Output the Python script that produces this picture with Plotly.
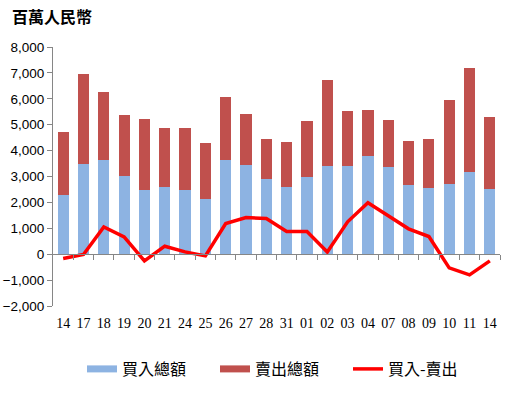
import plotly.graph_objects as go

labels = ["14", "17", "18", "19", "20", "21", "24", "25", "26", "27", "28",
          "31", "01", "02", "03", "04", "07", "08", "09", "10", "11", "14"]
buy = [2280, 3478, 3633, 3015, 2474, 2590, 2474, 2126, 3633, 3440, 2899,
       2590, 2976, 3401, 3401, 3788, 3363, 2667, 2551, 2706, 3169, 2512]
sell = [2435, 3479, 2628, 2357, 2744, 2280, 2396, 2164, 2435, 1971, 1546,
        1739, 2164, 3324, 2126, 1778, 1816, 1700, 1894, 3246, 4020, 2783]
net = [-166, -10, 1056, 670, -258, 309, 90, -64, 1185, 1417, 1379,
       876, 876, 89, 1250, 1984, 1481, 979, 683, -528, -799, -258]

names = ["買入總額", "賣出總額", "買入-賣出"]
c_buy, c_sell, c_net = "#8DB3E2", "#C0504D", "#FF0000"

idx = list(range(len(labels)))

fig = go.Figure()
fig.add_trace(go.Bar(x=idx, y=buy, name=names[0], marker_color=c_buy,
                     marker_line_width=0, width=0.55, showlegend=False))
fig.add_trace(go.Bar(x=idx, y=sell, name=names[1], marker_color=c_sell,
                     marker_line_width=0, width=0.55, showlegend=False))
fig.add_trace(go.Scatter(x=idx, y=net, name=names[2], mode="lines",
                         line=dict(color=c_net, width=3.5), xaxis="x2",
                         showlegend=False))
# legend proxies
for n, c, w in [(names[0], c_buy, 7), (names[1], c_sell, 7), (names[2], c_net, 3.5)]:
    fig.add_trace(go.Scatter(x=[None], y=[None], mode="lines", name=n,
                             line=dict(color=c, width=w)))

axis_gray = "#868686"
fig.update_layout(
    width=516, height=396,
    margin=dict(l=53, r=16, t=47, b=90, autoexpand=False),
    paper_bgcolor="white", plot_bgcolor="white",
    barmode="stack",
    font=dict(family="Liberation Sans", color="black"),
    xaxis=dict(range=[-0.5, 21.5], tickvals=idx, ticktext=labels,
               showline=False, showgrid=False, zeroline=False, automargin=False,
               ticks="outside", tickcolor="rgba(0,0,0,0)", ticklen=4,
               tickfont=dict(family="Liberation Serif", size=14, color="black")),
    xaxis2=dict(range=[-0.5, 21.5], overlaying="x", anchor="free", position=0.2,
                side="bottom", showticklabels=False, showgrid=False, zeroline=False,
                showline=True, linecolor=axis_gray, linewidth=1, automargin=False,
                tickvals=[i + 0.5 for i in idx], ticks="outside",
                ticklen=5, tickcolor=axis_gray),
    yaxis=dict(range=[-2000, 8000], dtick=1000, tickformat=",",
               showgrid=False, zeroline=False, showline=True, automargin=False,
               linecolor=axis_gray, linewidth=1, ticks="outside",
               ticklen=5, tickcolor=axis_gray,
               tickfont=dict(family="Liberation Sans", size=13.5, color="black")),
    legend=dict(orientation="h", xref="container", yref="container",
                x=82 / 516, xanchor="left", y=(396 - 369) / 396,
                yanchor="middle", entrywidth=88, traceorder="normal",
                font=dict(family="Noto Sans CJK TC", size=16, color="black")),
    annotations=[dict(text="<b>百萬人民幣</b>", xref="paper", yref="paper",
                      x=-53 / 447, y=(306 - 16) / 259,
                      xanchor="left", yanchor="middle", showarrow=False,
                      xshift=10,
                      font=dict(family="Noto Sans CJK TC", size=16, color="black"))],
)
fig.write_html("out.html", config={"displayModeBar": False},
               post_script="document.body.style.margin='0';")
